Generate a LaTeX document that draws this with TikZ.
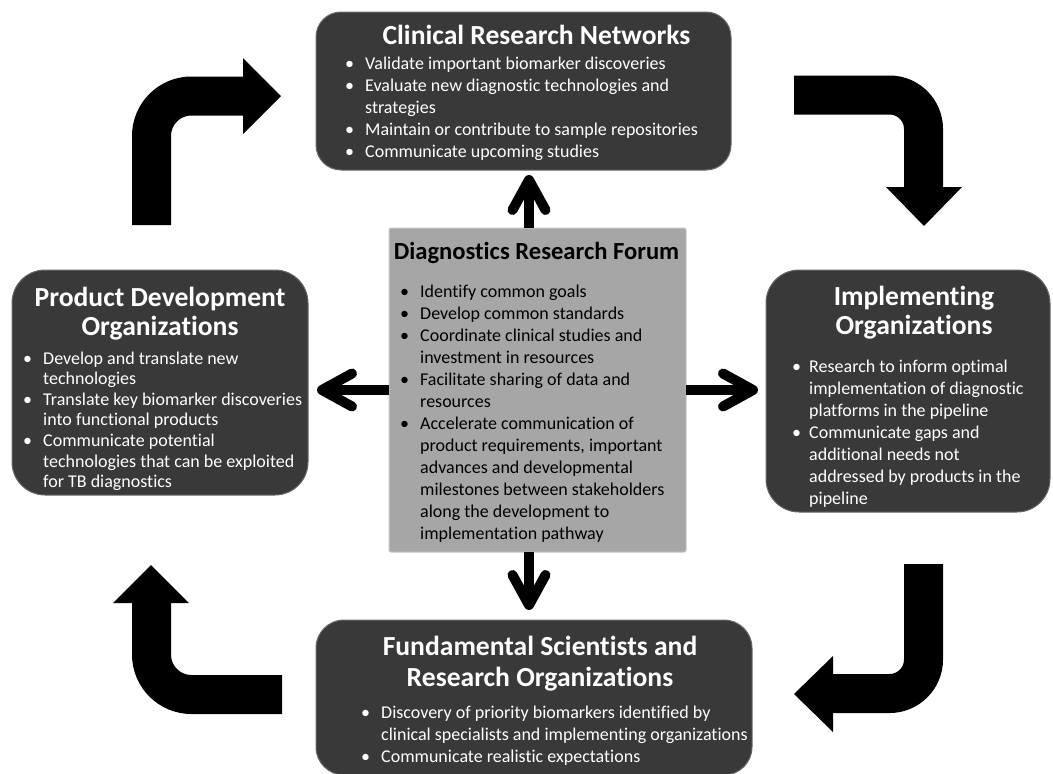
\documentclass[tikz,border=0pt]{standalone}
\usepackage{fontspec}
\setmainfont{Carlito}[Ligatures={NoCommon}]
\usetikzlibrary{arrows.meta}
\definecolor{boxdark}{HTML}{393939}
\definecolor{boxedge}{HTML}{6A6A6A}
\definecolor{forumgray}{HTML}{A6A6A6}
\definecolor{forumedge}{HTML}{C6C6C6}
\newlength\bulw
\newcommand\bpt[1]{\par\hangindent=\bulw\hangafter=1\noindent\makebox[\bulw][l]{•}#1}
\newcommand\bodyblock[3]{\begin{minipage}[t]{520pt}\fontsize{18}{#1}\selectfont\setlength\bulw{#2}\raggedright #3\end{minipage}}
\begin{document}
\begin{tikzpicture}[x=1pt,y=-1pt,
  darkbox/.style={fill=boxdark, draw=boxedge, line width=1pt, inner sep=0, outer sep=0},
  forumbox/.style={fill=forumgray, draw=forumedge, line width=1pt, rounded corners=2pt, inner sep=0, outer sep=0},
  titletxt/.style={text=white, font={\bfseries\fontsize{27.6}{29}\selectfont}, inner sep=0, align=center},
  bodytxt/.style={text=white, inner sep=0, anchor=base west},
  bigshaft/.style={line width=39pt, black, line cap=butt},
  smallarrow/.style={line width=10pt, black, -{Straight Barb[length=30pt,width=33pt,round]}}
]
\useasboundingbox (0,0) rectangle (1053,774);

% big circulating arrows
\draw[bigshaft, rounded corners=40pt] (151.5,225) -- (151.5,96) -- (244,96);
\fill (243,58) -- (281,96) -- (243,134) -- cycle;
\draw[bigshaft, rounded corners=34pt] (794,95) -- (923.5,95) -- (923.5,188);
\fill (886,187) -- (924,226) -- (962,187) -- cycle;
\draw[bigshaft, rounded corners=34pt] (923.5,564) -- (923.5,693.5) -- (832,693.5);
\fill (833,656) -- (794,694) -- (833,732) -- cycle;
\draw[bigshaft, rounded corners=40pt] (282,694.5) -- (151.5,694.5) -- (151.5,602);
\fill (113,603) -- (151,565) -- (189,603) -- cycle;

% boxes
\node[darkbox, rounded corners=25pt, minimum width=415pt, minimum height=158pt] (crn) at (523.5,91) {};
\node[darkbox, rounded corners=33pt, minimum width=296pt, minimum height=225pt] (pdo) at (160,382.5) {};
\node[darkbox, rounded corners=33pt, minimum width=284pt, minimum height=242pt] (imp) at (908,391) {};
\node[darkbox, rounded corners=28pt, minimum width=436pt, minimum height=155pt] (fsr) at (534,697.5) {};
\node[forumbox, minimum width=297pt, minimum height=324pt] (drf) at (537.5,390) {};

% connectors from the forum
\draw[smallarrow, shorten >=5pt] ([xshift=-8.5pt]drf.north) -- ([xshift=-8.5pt]drf.north |- crn.south);
\draw[smallarrow, shorten >=10pt] ([xshift=-8.5pt]drf.south) -- ([xshift=-8.5pt]drf.south |- fsr.north);
\draw[smallarrow, shorten >=9pt] (drf.west) -- (drf.west -| pdo.east);
\draw[smallarrow, shorten >=8pt] (drf.east) -- (drf.east -| imp.west);

% texts
\node[titletxt, anchor=base] (crnh) at (536.5,44) {Clinical Research Networks};
\node[bodytxt] (crnb) at (345,69) {\bodyblock{22pt}{20pt}{%
\bpt{Validate important biomarker discoveries}
\bpt{Evaluate new diagnostic technologies and\newline strategies}
\bpt{Maintain or contribute to sample repositories}
\bpt{Communicate upcoming studies}}};

\node[titletxt, anchor=base] (pdoh) at (160,335) {Product Development\\Organizations};
\node[bodytxt] (pdob) at (23,364) {\bodyblock{20.6pt}{20pt}{%
\bpt{Develop and translate new\newline technologies}
\bpt{Translate key biomarker discoveries\newline into functional products}
\bpt{Communicate potential\newline technologies that can be exploited\newline for TB diagnostics}}};

\node[titletxt, anchor=base, font={\bfseries\fontsize{27.6}{29}\selectfont}] (imph) at (914,334) {Implementing\\Organizations};
\node[bodytxt] (impb) at (792,372) {\bodyblock{22pt}{17pt}{%
\bpt{Research to inform optimal\newline implementation of diagnostic\newline platforms in the pipeline}
\bpt{Communicate gaps and\newline additional needs not\newline addressed by products in the\newline pipeline}}};

\node[titletxt, anchor=base, font={\bfseries\fontsize{27.6}{31}\selectfont}] (fsrh) at (540,686) {Fundamental Scientists and\\Research Organizations};
\node[bodytxt] (fsrb) at (361,718) {\bodyblock{22pt}{20pt}{%
\bpt{Discovery of priority biomarkers identified by\newline clinical specialists and implementing organizations}
\bpt{Communicate realistic expectations}}};

\node[titletxt, anchor=base, text=black, font={\bfseries\fontsize{24.6}{28}\selectfont}] (drfh) at (536.5,259) {Diagnostics Research Forum};
\node[bodytxt, text=black] (drfb) at (400,297) {\bodyblock{22pt}{20pt}{%
\bpt{Identify common goals}
\bpt{Develop common standards}
\bpt{Coordinate clinical studies and\newline investment in resources}
\bpt{Facilitate sharing of data and\newline resources}
\bpt{Accelerate communication of\newline product requirements, important\newline advances and developmental\newline milestones between stakeholders\newline along the development to\newline implementation pathway}}};
\end{tikzpicture}
\end{document}
